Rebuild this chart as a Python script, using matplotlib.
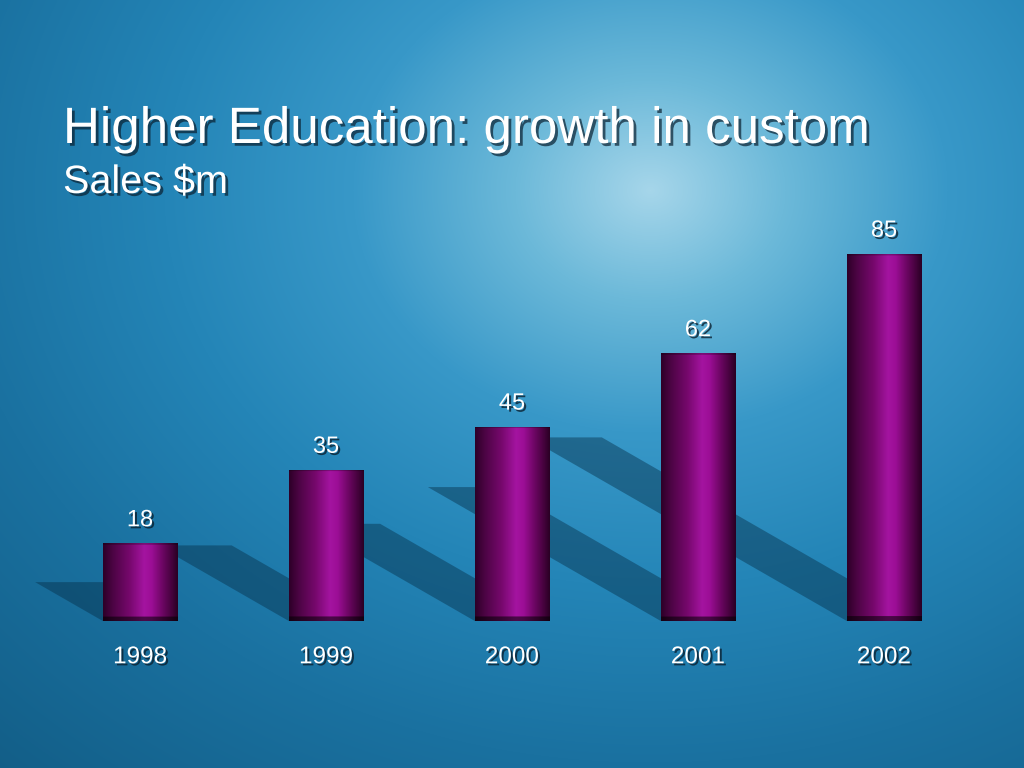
import numpy as np
import matplotlib
matplotlib.use("Agg")
import matplotlib.pyplot as plt
from matplotlib.patches import Polygon
from matplotlib import patheffects as pe
from matplotlib.colors import LinearSegmentedColormap, to_rgb

years = ["1998", "1999", "2000", "2001", "2002"]
sales = [18, 35, 45, 62, 85]
title = "Higher Education: growth in custom"
subtitle = "Sales $m"

W, H = 1024, 768
fig = plt.figure(figsize=(W / 100, H / 100), dpi=100)

# background
bg = fig.add_axes([0, 0, 1, 1], zorder=-5)
yy, xx = np.mgrid[0:H, 0:W]
r = np.sqrt(((xx - 650) / 540.0) ** 2 + ((yy - 190) / 440.0) ** 2)
stops = [0.0, 0.25, 0.55, 0.9, 1.3, 1.9]
cols = ["#a6d6ea", "#6cb9d9", "#3898c8", "#2485b7", "#1a71a0", "#115a82"]
rgb = np.zeros((H, W, 3))
for c in range(3):
    rgb[..., c] = np.interp(r, stops, [to_rgb(k)[c] for k in cols])
bg.imshow(rgb, extent=[0, W, H, 0], aspect="auto")
bg.set_xlim(0, W); bg.set_ylim(H, 0)
bg.axis("off")

ax = fig.add_axes([47 / W, 147 / H, 930 / W, 432 / H])
ax.set_facecolor("none")
ax.axis("off")
x = np.arange(len(years))
w = 0.4
k = 0.0202

# shadows
for xi, v in zip(x, sales):
    poly = Polygon([(xi - w / 2, 0), (xi + w / 2, 0),
                    (xi + w / 2 - k * v, 0.5 * v), (xi - w / 2 - k * v, 0.5 * v)],
                   closed=True, facecolor="#06304a", alpha=0.45, edgecolor="none",
                   zorder=1, clip_on=False)
    ax.add_patch(poly)

bars = ax.bar(x, sales, width=w, color="#6a0a60", edgecolor="none", zorder=3)

prof_pos = [0.0, 0.12, 0.35, 0.55, 0.65, 0.8, 0.93, 1.0]
prof_col = ["#2e0028", "#4a0442", "#76086c", "#a414a0", "#9c0e96", "#6c0662", "#42023a", "#2a0024"]
cmap = LinearSegmentedColormap.from_list("cyl", list(zip(prof_pos, prof_col)))
horiz = cmap(np.linspace(0, 1, 200))[:, :3]
for b, xi, v in zip(bars, x, sales):
    nrows = 300
    yv = np.linspace(v, 0, nrows)
    shade = np.ones(nrows)
    shade[yv < 1.0] = 0.45
    shade[yv > v - 0.4] = 0.75
    img = horiz[None, :, :] * shade[:, None, None]
    im = ax.imshow(img, extent=[xi - w / 2, xi + w / 2, 0, v], aspect="auto", zorder=3.5)
    im.set_clip_path(b)

ax.set_xlim(-0.5, 4.5)
ax.set_ylim(0, 100)

shadow = [pe.SimplePatchShadow(offset=(1.5, -1.5), shadow_rgbFace="#0a2030", alpha=0.8), pe.Normal()]
for xi, v in zip(x, sales):
    ax.annotate(str(v), (xi, v), xytext=(0, 12), textcoords="offset pixels",
                ha="center", va="bottom", fontsize=17, color="white",
                family="Liberation Sans", path_effects=shadow, zorder=5)
for xi, lab in zip(x, years):
    ax.text(xi, -8.4, lab, ha="center", va="center", fontsize=17.5, color="white",
            family="Liberation Sans", path_effects=shadow, clip_on=False, zorder=5)

tshadow = [pe.SimplePatchShadow(offset=(2, -2), shadow_rgbFace="#0a2030", alpha=0.7), pe.Normal()]
fig.text(63 / W, 1 - 143 / H, title, fontsize=36.8, color="white", family="Liberation Sans",
         va="baseline", ha="left", path_effects=tshadow)
fig.text(63 / W, 1 - 193 / H, subtitle, fontsize=28.5, color="white", family="Liberation Sans",
         va="baseline", ha="left", path_effects=tshadow)

fig.savefig("out.png", dpi=100)
